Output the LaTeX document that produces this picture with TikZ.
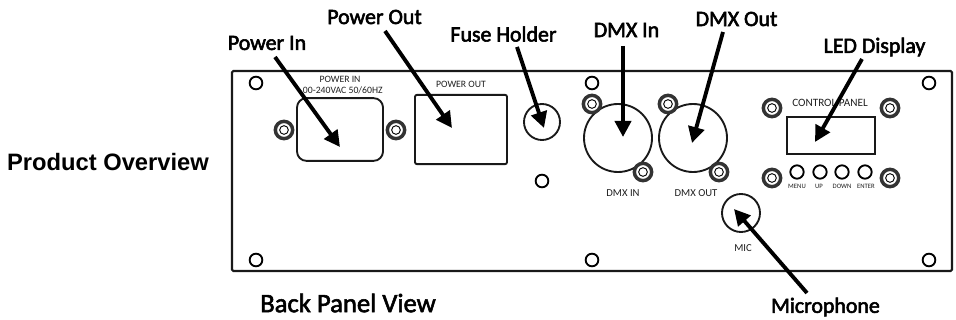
\documentclass[tikz,border=0pt]{standalone}
\usepackage{fontspec}
\setmainfont{Liberation Sans}
\newfontfamily\panelfont{Carlito}
\newfontfamily\labelfont{Carlito}
\newcommand{\heavy}[1]{\special{pdf:code q 0 G 2 Tr 0.42 w}#1\special{pdf:code Q}}
\usetikzlibrary{arrows.meta}
\tikzset{
 px/.style={x=0.75pt,y=-0.75pt},
 outline/.style={draw=black!90,line width=1.4pt,fill=white},
 hole/.style={circle,draw=black,line width=1.4pt,fill=white,inner sep=0pt,minimum size=9.5pt},
 screw/.style={circle,draw=black!80,line width=2.6pt,fill=white,inner sep=0pt,minimum size=13pt},
 screwin/.style={circle,draw=black,line width=.7pt,inner sep=0pt,minimum size=6.5pt},
 label/.style={font=\labelfont\fontsize{16.4pt}{18pt}\selectfont,text=black,inner sep=0pt},
 ptext/.style={font=\panelfont\fontsize{7.3pt}{8pt}\selectfont,text=black!88,inner sep=0pt,align=center},
 dtext/.style={font=\panelfont\fontsize{8pt}{9pt}\selectfont,text=black!88,inner sep=0pt},
 ctext/.style={font=\panelfont\fontsize{8.4pt}{9pt}\selectfont,text=black!88,inner sep=0pt},
 small/.style={font=\panelfont\fontsize{5pt}{6pt}\selectfont,text=black!88,inner sep=0pt},
 pointer/.style={line width=2.9pt,-{Triangle[length=12pt,width=12pt]},black},
}
\begin{document}
\begin{tikzpicture}[px]
\useasboundingbox (0,0) rectangle (956,320);
% panel
\node[draw=black!90,line width=1.6pt,rounded corners=1pt,minimum width=540pt,minimum height=150pt,inner sep=0pt] (panel) at (592,171) {};
% holes
\foreach \n/\x/\y in {h1/256/83,h2/592/83,h3/929/83,h4/256/260,h5/592/260,h6/929/260,h7/542/181}
  \node[hole] (\n) at (\x,\y) {};
% components
\node[outline,rounded corners=7pt,minimum width=64.5pt,minimum height=47pt,inner sep=0pt] (pin) at (340,129.5) {};
\node[outline,rounded corners=1.5pt,minimum width=69pt,minimum height=52pt,inner sep=0pt] (pout) at (461,129.5) {};
\node[outline,circle,minimum size=27pt,inner sep=0pt] (fuse) at (542,122) {};
\node[outline,circle,minimum size=51pt,inner sep=0pt] (dmxin) at (618,138) {};
\node[outline,circle,minimum size=51pt,inner sep=0pt] (dmxout) at (693,138) {};
\node[outline,minimum width=66pt,minimum height=28pt,inner sep=0pt] (disp) at (831,135.5) {};
\node[outline,circle,minimum size=28.5pt,inner sep=0pt] (mic) at (741,213) {};
\foreach \n/\x in {b1/797,b2/820,b3/842,b4/865}
  \node[hole,minimum size=10pt] (\n) at (\x,172) {};
% screws
\foreach \n/\x/\y in {s1/284/130,s2/396/130,s3/592/104,s4/643/172,s5/668/104,s6/719/172,s7/772/108,s8/890/108,s9/772/178,s10/890/178}{
  \node[screw] (\n) at (\x,\y) {};
  \node[screwin] (\n i) at (\x,\y) {};
}
% panel text
\node[ptext] (t1) at (340,79) {POWER IN};
\node[ptext,anchor=east] (t2) at (383,90) {00-240VAC 50/60HZ};
\node[ptext] (t3) at (461,84) {POWER OUT};
\node[dtext] (t4) at (623,193) {DMX IN};
\node[dtext] (t5) at (696,193) {DMX OUT};
\node[ctext] (t6) at (830,103) {CONTROL PANEL};
\node[dtext] (t7) at (743,248) {MIC};
\node[small] (m1) at (797,186) {MENU};
\node[small] (m2) at (819,186) {UP};
\node[small] (m3) at (842,186) {DOWN};
\node[small] (m4) at (866,186) {ENTER};
% labels
\node[label] (lin) at (267,43) {\heavy{Power In}};
\node[label] (lout) at (374.5,17) {\heavy{Power Out}};
\node[label] (lfuse) at (503.5,34) {\heavy{Fuse Holder}};
\node[label] (ldin) at (626.5,30) {\heavy{DMX In}};
\node[label] (ldout) at (736.5,19) {\heavy{DMX Out}};
\node[label] (lled) at (874.5,47) {\heavy{LED Display}};
\node[label] (lmic) at (825.5,307) {\heavy{Microphone}};
\node[label,font=\bfseries\fontsize{17.8pt}{20pt}\selectfont] (lprod) at (108,162) {Product Overview};
\node[label,font=\labelfont\fontsize{20pt}{22pt}\selectfont] (lback) at (348,303) {\heavy{Back Panel View}};
% arrow ends
\coordinate (a1) at (275,57); \coordinate (a1t) at (340,147);
\coordinate (a2) at (385,31); \coordinate (a2t) at (452,128);
\coordinate (a3) at (517,47); \coordinate (a3t) at (544,128);
\coordinate (a4) at (623,46); \coordinate (a4t) at (623,137);
\coordinate (a5) at (723,32); \coordinate (a5t) at (692,143);
\coordinate (a6) at (862,59); \coordinate (a6t) at (815,142);
\coordinate (a7) at (807,293); \coordinate (a7t) at (734,209);
\foreach \i in {1,...,7} \draw[pointer] (a\i) -- (a\i t);
\end{tikzpicture}
\end{document}
